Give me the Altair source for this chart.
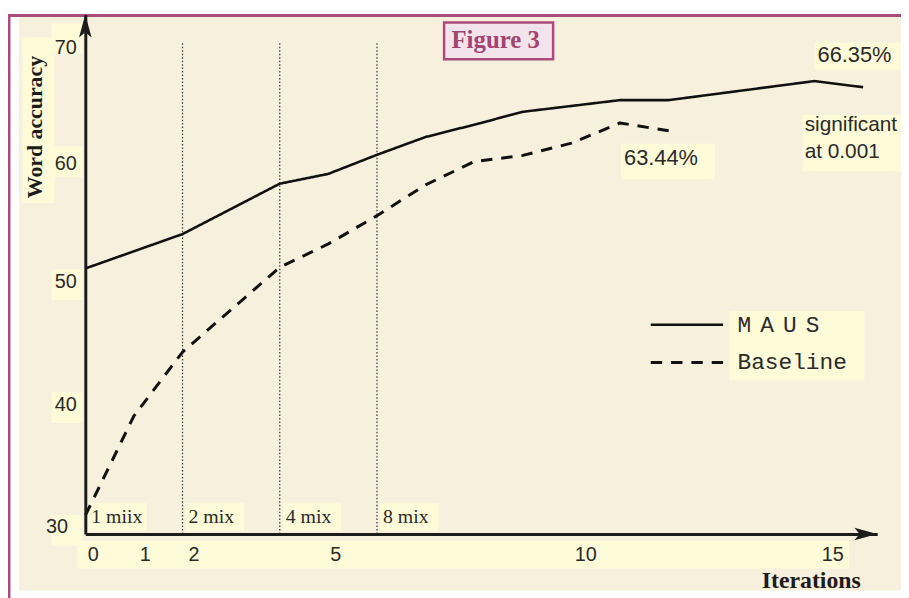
import altair as alt
import pandas as pd

# ---------------- data ----------------
iter_maus = [0, 2, 4, 5, 6, 7, 8, 9, 11, 12, 15, 16]
acc_maus = [51.6, 54.4, 58.5, 59.3, 60.85, 62.3, 63.3, 64.35, 65.3, 65.3, 66.85, 66.35]
iter_base = [0, 1, 2, 4, 5, 6, 7, 8, 9, 10, 11, 12]
acc_base = [31.5, 39.6, 44.8, 51.7, 53.6, 55.9, 58.4, 60.3, 60.8, 61.8, 63.44, 62.8]
series_names = ["MAUS", "Baseline"]

mix_starts = [0, 2, 4, 6]
mix_labels = ["1 miix", "2 mix", "4 mix", "8 mix"]
mix_bounds = [2, 4, 6]

x_ticks = [0, 1, 2, 5, 10, 15]
y_ticks = [30, 40, 50, 60, 70]

x_title = "Iterations"
y_title = "Word accuracy"
fig_title = "Figure 3"
sig_lines = ["significant", "at 0.001"]

# ---------------- styling ----------------
INK = "#1c1c1c"
TXT = "#2a2a2a"
CREAM = "#F6F0DD"
LBOX = "#FFFBD9"
PURPLE = "#A94B7C"
PINK = "#F3E3EB"
SANS = "Liberation Sans"
SERIF = "Liberation Serif"
MONO = "Liberation Mono"
TS = "\u2009\u2009"  # letter spacing used in the legend label

X_END = 16.29   # arrow tip of the x axis
Y_END = 72.26   # arrow tip of the y axis

xs = alt.Scale(domain=[0, X_END], nice=False, zero=False)
ys = alt.Scale(domain=[y_ticks[0], Y_END], nice=False, zero=False)

x_axis = alt.Axis(
    values=x_ticks, ticks=False, grid=False, zindex=1,
    domainColor=INK, domainWidth=3,
    labelFont=SANS, labelFontSize=20, labelColor=TXT, labelPadding=11,
    labelOffset={"condition": [
        {"test": "datum.value === 0", "value": 2},
        {"test": "datum.value === 5", "value": 7},
        {"test": "datum.value === 10", "value": 14},
        {"test": "datum.value === 15", "value": 18},
    ], "value": 11},
    title=x_title, titleFont=SERIF, titleFontSize=24, titleFontWeight="bold",
    titleColor=INK, titleX=732, titleY=47, titleAlign="center", titleBaseline="middle",
)
y_axis = alt.Axis(
    values=y_ticks, ticks=False, grid=False, zindex=1,
    domainColor=INK, domainWidth=3,
    labelFont=SANS, labelFontSize=20, labelColor=TXT, labelBaseline="middle",
    labelPadding={"condition": [{"test": "datum.value === 30", "value": 18}], "value": 9},
    labelOffset={"condition": [
        {"test": "datum.value === 70", "value": 5},
        {"test": "datum.value === 60", "value": -2},
        {"test": "datum.value === 30", "value": -7},
    ], "value": -7},
    title=y_title, titleFont=SERIF, titleFontSize=22, titleFontWeight="bold",
    titleColor=INK, titleAngle=270, titleX=-51, titleY=113,
    titleAlign="center", titleBaseline="middle",
)


def X(f):
    return alt.X(f, type="quantitative", scale=xs, axis=x_axis)


def Y(f):
    return alt.Y(f, type="quantitative", scale=ys, axis=y_axis)


one = pd.DataFrame({"k": [0]})

# ---------------- decoration ----------------
cream = alt.Chart(one).mark_rect(color=CREAM).encode(
    x=alt.value(-67), x2=alt.value(840), y=alt.value(2), y2=alt.value(581))
border = alt.Chart(one).mark_rect(fill=None, stroke=PURPLE, strokeWidth=3).encode(
    x=alt.value(-77), x2=alt.value(860), y=alt.value(1), y2=alt.value(640))
ytitle_box = alt.Chart(one).mark_rect(color=LBOX).encode(
    x=alt.value(-63), x2=alt.value(-31), y=alt.value(23), y2=alt.value(190))
legend_box = alt.Chart(one).mark_rect(color=LBOX).encode(
    x=alt.value(650), x2=alt.value(786), y=alt.value(299), y2=alt.value(369))

ylab_df = pd.DataFrame({"v": y_ticks})
ylab_boxes = alt.Chart(ylab_df).mark_rect(color=LBOX, yOffset=-19, y2Offset=12).encode(
    x=alt.value(-34), x2=alt.value(-3), y=Y("v"), y2=alt.Y2("v"))

xstrip_df = pd.DataFrame({"a": [x_ticks[0]], "b": [x_ticks[-1]], "v": [y_ticks[0]]})
xstrip = alt.Chart(xstrip_df).mark_rect(
    color=LBOX, xOffset=-8, x2Offset=35, yOffset=7, y2Offset=35).encode(
    x=X("a"), x2=alt.X2("b"), y=Y("v"), y2=alt.Y2("v"))

# mix boundaries
bounds_df = pd.DataFrame({"b": mix_bounds, "lo": y_ticks[0], "hi": y_ticks[-1]})
bound_rules = alt.Chart(bounds_df).mark_rule(
    color="#333333", strokeWidth=1.2, strokeDash=[1.5, 2]).encode(
    x=X("b"), y=Y("lo"), y2=alt.Y2("hi"))

mix_df = pd.DataFrame({"s": mix_starts, "lab": mix_labels, "v": y_ticks[0]})
mix_boxes = alt.Chart(mix_df).mark_rect(
    color=LBOX, xOffset=3, x2Offset=62, yOffset=-31, y2Offset=-3).encode(
    x=X("s"), x2=alt.X2("s"), y=Y("v"), y2=alt.Y2("v"))
mix_text = alt.Chart(mix_df).mark_text(
    align="left", baseline="middle", dx=6, dy=-17, font=SERIF, fontSize=20, color=TXT).encode(
    x=X("s"), y=Y("v"), text="lab:N")

# ---------------- series ----------------
lines_df = pd.DataFrame({
    "it": iter_maus + iter_base,
    "acc": acc_maus + acc_base,
    "series": [series_names[0]] * len(iter_maus) + [series_names[1]] * len(iter_base),
})
lines = alt.Chart(lines_df).mark_line(color="#111111", strokeJoin="round").encode(
    x=X("it"), y=Y("acc"),
    strokeDash=alt.StrokeDash(
        "series:N",
        scale=alt.Scale(domain=series_names, range=[[1, 0], [11.5, 9]]),
        legend=alt.Legend(
            title=None, orient="none", legendX=569, legendY=294,
            symbolType="stroke", symbolSize=5329, symbolStrokeWidth=3,
            symbolStrokeColor="#111111", symbolFillColor="#111111",
            labelFont=MONO, labelFontSize=23, labelColor=TXT, labelOffset=13,
            rowPadding=0, clipHeight=38, padding=0,
            labelExpr="datum.label === 'MAUS' ? 'M" + TS + "A" + TS + "U" + TS + "S' : datum.label",
        ),
    ),
    strokeWidth=alt.StrokeWidth(
        "series:N", scale=alt.Scale(domain=series_names, range=[2.6, 3.0]), legend=None),
)

# axis arrowheads
ARROW_UP = "M0,-1 L0.55,1 L0,0.55 L-0.55,1 Z"
ARROW_RIGHT = "M1,0 L-1,-0.55 L-0.55,0 L-1,0.55 Z"
arr_y = alt.Chart(pd.DataFrame({"it": [0], "acc": [Y_END]})).mark_point(
    shape=ARROW_UP, size=529, filled=True, color=INK, opacity=1, yOffset=11.5).encode(
    x=X("it"), y=Y("acc"))
arr_x = alt.Chart(pd.DataFrame({"it": [X_END], "acc": [y_ticks[0]]})).mark_point(
    shape=ARROW_RIGHT, size=529, filled=True, color=INK, opacity=1, xOffset=-11.5).encode(
    x=X("it"), y=Y("acc"))

# ---------------- annotations ----------------
final_df = pd.DataFrame({"it": [iter_maus[-1]], "acc": [acc_maus[-1]],
                         "t": [f"{acc_maus[-1]:.2f}%"],
                         "s1": [sig_lines[0]], "s2": [sig_lines[1]]})
peak_i = acc_base.index(max(acc_base))
peak_df = pd.DataFrame({"it": [iter_base[peak_i]], "acc": [acc_base[peak_i]],
                        "t": [f"{acc_base[peak_i]:.2f}%"]})

final_box = alt.Chart(final_df).mark_rect(
    color=LBOX, xOffset=-49, x2Offset=40, yOffset=-45, y2Offset=-17).encode(
    x=X("it"), x2=alt.X2("it"), y=Y("acc"), y2=alt.Y2("acc"))
final_txt = alt.Chart(final_df).mark_text(
    align="left", baseline="middle", dx=-46, dy=-32, font=SANS, fontSize=22, color=TXT).encode(
    x=X("it"), y=Y("acc"), text="t:N")
sig_box = alt.Chart(final_df).mark_rect(
    color=LBOX, xOffset=-61, x2Offset=40, yOffset=28, y2Offset=85).encode(
    x=X("it"), x2=alt.X2("it"), y=Y("acc"), y2=alt.Y2("acc"))
sig_txt1 = alt.Chart(final_df).mark_text(
    align="left", baseline="middle", dx=-59, dy=38, font=SANS, fontSize=21, color=TXT).encode(
    x=X("it"), y=Y("acc"), text="s1:N")
sig_txt2 = alt.Chart(final_df).mark_text(
    align="left", baseline="middle", dx=-59, dy=65, font=SANS, fontSize=21, color=TXT).encode(
    x=X("it"), y=Y("acc"), text="s2:N")
peak_box = alt.Chart(peak_df).mark_rect(
    color=LBOX, xOffset=1, x2Offset=96, yOffset=21, y2Offset=57).encode(
    x=X("it"), x2=alt.X2("it"), y=Y("acc"), y2=alt.Y2("acc"))
peak_txt = alt.Chart(peak_df).mark_text(
    align="left", baseline="middle", dx=4, dy=35, font=SANS, fontSize=22, color=TXT).encode(
    x=X("it"), y=Y("acc"), text="t:N")

# figure label
fig_box = alt.Chart(one).mark_rect(fill=PINK, stroke=PURPLE, strokeWidth=2.5).encode(
    x=alt.value(362), x2=alt.value(472), y=alt.value(8), y2=alt.value(45))
fig_txt = alt.Chart(pd.DataFrame({"t": [fig_title]})).mark_text(
    align="center", baseline="middle", font=SERIF, fontSize=25, fontWeight="bold",
    color="#A2446F").encode(x=alt.value(414), y=alt.value(26), text="t:N")

chart = alt.layer(
    cream, border, ytitle_box, legend_box, ylab_boxes, xstrip,
    bound_rules, mix_boxes, mix_text,
    lines, arr_y, arr_x,
    final_box, sig_box, peak_box, final_txt, sig_txt1, sig_txt2, peak_txt,
    fig_box, fig_txt,
).properties(
    width=799, height=524,
    padding={"left": 78, "top": 4, "right": 24, "bottom": 62},
    autosize=alt.AutoSizeParams(type="none"),
    background="white",
).configure_view(stroke=None)

chart.save("out.html", embed_options={"renderer": "svg", "actions": False})
